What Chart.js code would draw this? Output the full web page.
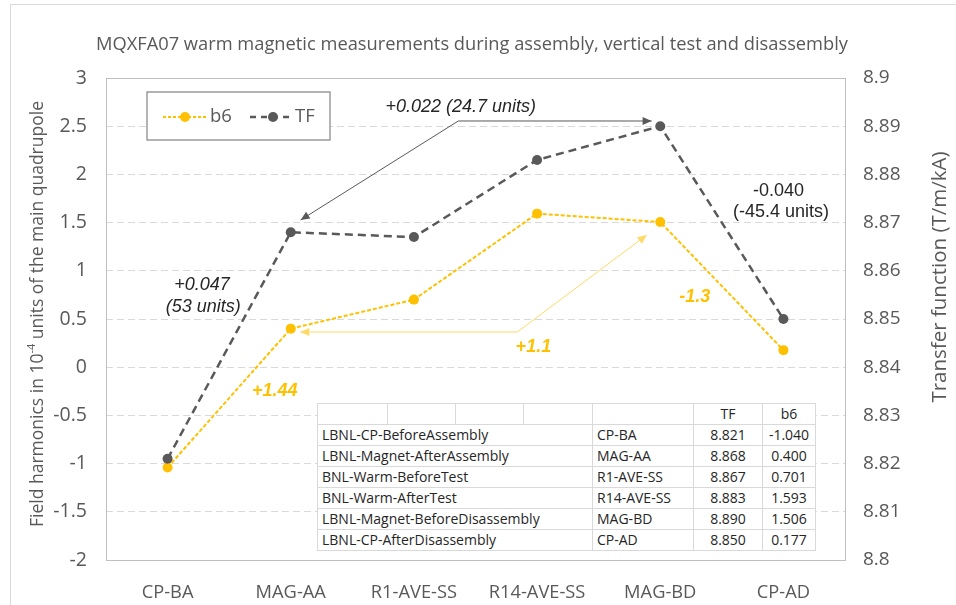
<!DOCTYPE html>
<html>
<head>
<meta charset="utf-8">
<title>MQXFA07 warm magnetic measurements</title>
<script src="https://cdn.jsdelivr.net/npm/chart.js@4.4.1/dist/chart.umd.min.js"></script>
<style>
  html, body { margin: 0; padding: 0; background: #fff; }
  #wrap { position: relative; width: 956px; height: 605px; overflow: hidden; }
  #frame { position: absolute; left: 10px; top: 4px; right: -2px; bottom: -2px; border: 1px solid #d9d9d9; }
  #chart { position: absolute; left: 0; top: 0; }
  #steps { position: absolute; left: 317px; top: 403px; width: 498px; table-layout: fixed;
           border-collapse: collapse; background: #fff; font: 14px 'Open Sans', sans-serif; color: #262626; }
  #steps td { border: 1px solid #d9d9d9; height: 20px; line-height: 20px; padding: 0 4px; white-space: nowrap; overflow: visible; }
  #steps td.num { text-align: center; }
</style>
</head>
<body>
<div id="wrap">
  <div id="frame"></div>
  <canvas id="chart" width="956" height="605"></canvas>
  <table id="steps">
    <colgroup>
      <col style="width:70px"><col style="width:68px"><col style="width:68px"><col style="width:69px">
      <col style="width:101px"><col style="width:69px"><col style="width:53px">
    </colgroup>
    <tbody></tbody>
  </table>
</div>
<script>
// measurement steps
const categories = ["CP-BA", "MAG-AA", "R1-AVE-SS", "R14-AVE-SS", "MAG-BD", "CP-AD"];
const stepNames = [
  "LBNL-CP-BeforeAssembly",
  "LBNL-Magnet-AfterAssembly",
  "BNL-Warm-BeforeTest",
  "BNL-Warm-AfterTest",
  "LBNL-Magnet-BeforeDisassembly",
  "LBNL-CP-AfterDisassembly",
];

// series values
const b6Values = [-1.040, 0.400, 0.701, 1.593, 1.506, 0.177];
const tfValues = [8.821, 8.868, 8.867, 8.883, 8.890, 8.850];

// axis ranges
const b6Range = { min: -2, max: 3, step: 0.5 };
const tfRange = { min: 8.8, max: 8.9, step: 0.01 };

const YELLOW = "#FFC000";
const GREY = "#595959";
const TEXT = "#595959";
const FONT = "'Open Sans', sans-serif";

// change annotations, in data coordinates (x = category index, y = b6 axis)
const arrows = [
  { color: "#595959", points: [[1.08, 1.527], [2.36, 2.554], [3.93, 2.554]] },
  { color: "#FFD966", points: [[1.077, 0.365], [2.84, 0.365], [3.89, 1.371]] },
];
const notes = [
  { text: "+0.022 (24.7 units)", x: 2.38, y: 2.70, style: "italic", color: "#262626" },
  { text: "-0.040", x: 4.96, y: 1.83, style: "", color: "#262626" },
  { text: "(-45.4 units)", x: 4.98, y: 1.61, style: "", color: "#262626" },
  { text: "+0.047", x: 0.28, y: 0.853, style: "italic", color: "#262626" },
  { text: "(53 units)", x: 0.29, y: 0.625, style: "italic", color: "#262626" },
  { text: "+1.44", x: 0.87, y: -0.247, style: "italic bold", color: YELLOW },
  { text: "+1.1", x: 2.97, y: 0.21, style: "italic bold", color: YELLOW },
  { text: "-1.3", x: 4.28, y: 0.728, style: "italic bold", color: YELLOW },
];

// table under the lines
const tbody = document.querySelector("#steps tbody");
let html = "<tr><td></td><td></td><td></td><td></td><td></td><td class='num'>TF</td><td class='num'>b6</td></tr>";
stepNames.forEach((name, i) => {
  html += "<tr><td colspan='4'>" + name + "</td><td>" + categories[i] + "</td>" +
    "<td class='num'>" + tfValues[i].toFixed(3) + "</td><td class='num'>" + b6Values[i].toFixed(3) + "</td></tr>";
});
tbody.innerHTML = html;

const fmt = (v) => String(+v.toFixed(2));

function arrowHead(ctx, from, to) {
  const a = Math.atan2(to.y - from.y, to.x - from.x);
  const len = 9, half = 4;
  ctx.beginPath();
  ctx.moveTo(to.x, to.y);
  ctx.lineTo(to.x - len * Math.cos(a) + half * Math.sin(a), to.y - len * Math.sin(a) - half * Math.cos(a));
  ctx.lineTo(to.x - len * Math.cos(a) - half * Math.sin(a), to.y - len * Math.sin(a) + half * Math.cos(a));
  ctx.closePath();
  ctx.fill();
}

const decorations = {
  id: "decorations",
  beforeDatasetsDraw(chart) {
    const { ctx, chartArea: a } = chart;
    ctx.save();
    ctx.strokeStyle = "#bfbfbf";
    ctx.lineWidth = 1;
    ctx.strokeRect(a.left + 0.5, a.top + 0.5, a.right - a.left, a.bottom - a.top);
    ctx.restore();
  },
  afterDatasetsDraw(chart) {
    const { ctx, chartArea: a, scales } = chart;
    const px = (p) => ({ x: scales.x.getPixelForValue(p[0]), y: scales.y.getPixelForValue(p[1]) });

    ctx.save();
    arrows.forEach((arr) => {
      const pts = arr.points.map(px);
      ctx.strokeStyle = arr.color;
      ctx.fillStyle = arr.color;
      ctx.lineWidth = 1;
      ctx.beginPath();
      pts.forEach((p, i) => (i ? ctx.lineTo(p.x, p.y) : ctx.moveTo(p.x, p.y)));
      ctx.stroke();
      arrowHead(ctx, pts[1], pts[0]);
      arrowHead(ctx, pts[pts.length - 2], pts[pts.length - 1]);
    });

    ctx.textAlign = "center";
    ctx.textBaseline = "middle";
    notes.forEach((n) => {
      const p = px([n.x, n.y]);
      ctx.font = (n.style ? n.style + " " : "") + "18px 'Liberation Sans', Arial, sans-serif";
      ctx.fillStyle = n.color;
      ctx.fillText(n.text, p.x, p.y);
    });

    // legend box
    const lx = a.left, ly = a.top;
    ctx.fillStyle = "#fff";
    ctx.fillRect(lx + 41, ly + 14, 183, 48);
    ctx.strokeStyle = "#8c8c8c";
    ctx.lineWidth = 1.3;
    ctx.strokeRect(lx + 41, ly + 14, 183, 48);
    const my = ly + 39;
    ctx.lineWidth = 2;
    ctx.strokeStyle = YELLOW;
    ctx.setLineDash([3, 2]);
    ctx.beginPath(); ctx.moveTo(lx + 57, my); ctx.lineTo(lx + 101, my); ctx.stroke();
    ctx.strokeStyle = GREY;
    ctx.lineWidth = 2.5;
    ctx.setLineDash([6, 5]);
    ctx.beginPath(); ctx.moveTo(lx + 144, my); ctx.lineTo(lx + 186, my); ctx.stroke();
    ctx.setLineDash([]);
    ctx.fillStyle = YELLOW;
    ctx.beginPath(); ctx.arc(lx + 79, my, 5, 0, Math.PI * 2); ctx.fill();
    ctx.fillStyle = GREY;
    ctx.beginPath(); ctx.arc(lx + 167, my, 5, 0, Math.PI * 2); ctx.fill();
    ctx.font = "18.5px " + FONT;
    ctx.fillStyle = TEXT;
    ctx.textAlign = "left";
    ctx.fillText("b6", lx + 104, my);
    ctx.fillText("TF", lx + 189, my);
    ctx.restore();
  },
  afterDraw(chart) {
    const { ctx } = chart;
    ctx.save();
    ctx.fillStyle = TEXT;
    ctx.textBaseline = "middle";
    ctx.textAlign = "center";
    ctx.font = "18.3px " + FONT;
    ctx.fillText("MQXFA07 warm magnetic measurements during assembly, vertical test and disassembly", 472, 45);

    // left axis title with superscript
    const parts = [
      { t: "Field harmonics in 10", size: 17.5, rise: 0 },
      { t: "-4", size: 11, rise: 6 },
      { t: " units of the main quadrupole", size: 17.5, rise: 0 },
    ];
    let total = 0;
    parts.forEach((p) => { ctx.font = p.size + "px " + FONT; p.w = ctx.measureText(p.t).width; total += p.w; });
    ctx.translate(38, 314);
    ctx.rotate(-Math.PI / 2);
    ctx.textAlign = "left";
    let x = -total / 2;
    parts.forEach((p) => { ctx.font = p.size + "px " + FONT; ctx.fillText(p.t, x, -p.rise); x += p.w; });
    ctx.setTransform(1, 0, 0, 1, 0, 0);

    ctx.translate(940, 277);
    ctx.rotate(-Math.PI / 2);
    ctx.textAlign = "center";
    ctx.font = "20.5px " + FONT;
    ctx.fillText("Transfer function (T/m/kA)", 0, 0);
    ctx.restore();
  },
};

new Chart(document.getElementById("chart"), {
  type: "line",
  data: {
    labels: categories,
    datasets: [
      {
        label: "b6",
        data: b6Values,
        yAxisID: "y",
        order: 2,
        borderColor: YELLOW,
        backgroundColor: YELLOW,
        borderWidth: 2,
        borderDash: [4, 2],
        pointRadius: 5,
        pointBorderWidth: 0,
        pointBackgroundColor: YELLOW,
        tension: 0,
      },
      {
        label: "TF",
        data: tfValues,
        yAxisID: "y1",
        order: 1,
        borderColor: GREY,
        backgroundColor: GREY,
        borderWidth: 2.5,
        borderDash: [8, 5],
        pointRadius: 5,
        pointBorderWidth: 0,
        pointBackgroundColor: GREY,
        tension: 0,
      },
    ],
  },
  options: {
    responsive: false,
    animation: false,
    devicePixelRatio: 1,
    layout: { padding: { top: 78, left: 0, right: 0, bottom: 0 } },
    plugins: { legend: { display: false }, tooltip: { enabled: false }, title: { display: false } },
    scales: {
      x: {
        offset: true,
        grid: { display: false },
        border: { display: false },
        ticks: { color: TEXT, font: { family: FONT, size: 18.3 }, padding: 14, maxRotation: 0 },
        afterFit: (s) => { s.height = 45; },
      },
      y: {
        position: "left",
        min: b6Range.min,
        max: b6Range.max,
        grid: {
          drawTicks: false,
          color: (c) => (c.tick.value <= b6Range.min || c.tick.value >= b6Range.max ? "transparent" : "#d9d9d9"),
        },
        border: { display: false, dash: [7, 4] },
        ticks: { stepSize: b6Range.step, color: TEXT, font: { family: FONT, size: 19.5 }, padding: 19, callback: fmt },
        afterFit: (s) => { s.width = 106; },
      },
      y1: {
        position: "right",
        min: tfRange.min,
        max: tfRange.max,
        grid: { display: false, drawTicks: false },
        border: { display: false },
        ticks: { stepSize: tfRange.step, color: TEXT, font: { family: FONT, size: 19 }, padding: 18, callback: fmt },
        afterFit: (s) => { s.width = 111; },
      },
    },
  },
  plugins: [decorations],
});
</script>
</body>
</html>
